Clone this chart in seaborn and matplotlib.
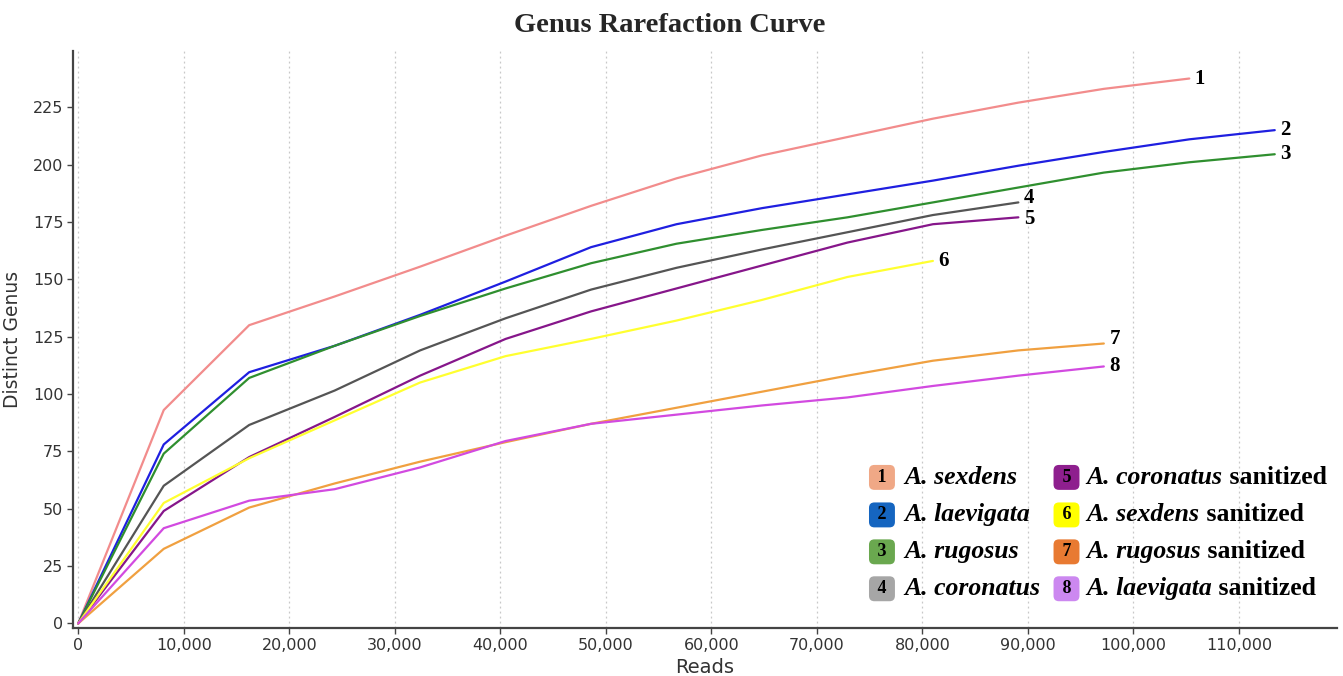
import matplotlib
matplotlib.use("Agg")
import matplotlib.pyplot as plt
import numpy as np
import pandas as pd
import seaborn as sns

# ---- data ----
reads = [0, 8100, 16200, 24300, 32400, 40500, 48600, 56700, 64800,
         72900, 81000, 89100, 97200, 105300, 113400]

s1_sexdens = [0, 93, 130, 142.5, 155.5, 169, 182, 194, 204, 212, 220, 227, 233, 237.5]
s2_laevigata = [0, 78, 109.5, 121, 134.5, 149, 164, 174, 181, 187, 193, 199.5, 205.5, 211, 215]
s3_rugosus = [0, 74, 107, 121, 134, 146, 157, 165.5, 171.5, 177, 183.5, 190, 196.5, 201, 204.5]
s4_coronatus = [0, 60, 86.5, 101.5, 119, 133, 145.5, 155, 163, 170.5, 178, 183.5]
s5_coronatus_san = [0, 49, 72.5, 90, 108, 124, 136, 146, 156, 166, 174, 177]
s6_sexdens_san = [0, 52.5, 72, 88.5, 105, 116.5, 124, 132, 141, 151, 158]
s7_rugosus_san = [0, 32.5, 50.5, 61, 70.5, 79, 87, 94, 101, 108, 114.5, 119, 122]
s8_laevigata_san = [0, 41.5, 53.5, 58.5, 68, 79.5, 87, 91, 95, 98.5, 103.5, 108, 112]

series_ids = ["1", "2", "3", "4", "5", "6", "7", "8"]
series_vals = [s1_sexdens, s2_laevigata, s3_rugosus, s4_coronatus,
               s5_coronatus_san, s6_sexdens_san, s7_rugosus_san, s8_laevigata_san]
species = ["A. sexdens", "A. laevigata", "A. rugosus", "A. coronatus",
           "A. coronatus", "A. sexdens", "A. rugosus", "A. laevigata"]
sanitized = [False, False, False, False, True, True, True, True]

line_colors = ["#f28c8c", "#1f1fe0", "#2f8f2f", "#555555",
               "#86168a", "#ffff30", "#f0a040", "#d24ae0"]
box_colors = ["#f0a886", "#1565c0", "#6aa84f", "#a6a6a6",
              "#8e1f8e", "#ffff00", "#e87a32", "#cc88f0"]

x_ticks = [0, 10000, 20000, 30000, 40000, 50000, 60000, 70000, 80000,
           90000, 100000, 110000]
y_ticks = [0, 25, 50, 75, 100, 125, 150, 175, 200, 225]

rows = []
for sid, vals in zip(series_ids, series_vals):
    for r, v in zip(reads, vals):
        rows.append({"sample": sid, "Reads": r, "Distinct Genus": v})
df = pd.DataFrame(rows)

# ---- plotting ----
sns.set_theme(style="white")
plt.rcParams["font.family"] = ["DejaVu Sans"]

fig = plt.figure(figsize=(13.43, 6.76), dpi=100)
ax = fig.add_axes([73 / 1343, 1 - 628 / 676, 1264 / 1343, 577 / 676])

palette = dict(zip(series_ids, line_colors))
sns.lineplot(data=df, x="Reads", y="Distinct Genus", hue="sample",
             palette=palette, linewidth=1.6, legend=False, ax=ax,
             sort=True, estimator=None)

ax.set_xlim(-500, 119300)
ax.set_ylim(-2, 249.5)
ax.set_xticks(x_ticks)
ax.set_xticklabels([f"{t:,}" for t in x_ticks])
ax.set_yticks(y_ticks)

ax.grid(axis="x", linestyle=(0, (1.5, 2.5)), color="#c8c8c8", linewidth=0.9)
ax.grid(axis="y", visible=False)
for side in ["top", "right"]:
    ax.spines[side].set_visible(False)
for side in ["left", "bottom"]:
    ax.spines[side].set_color("#444444")
    ax.spines[side].set_linewidth(1.6)
ax.tick_params(axis="both", which="major", direction="out", length=4,
               width=1.0, color="#444444", labelsize=11.5, labelcolor="#333333",
               bottom=True, left=True, pad=3)
ax.set_xlabel("Reads", fontsize=14, color="#333333", labelpad=4)
ax.set_ylabel("Distinct Genus", fontsize=13.5, color="#333333", labelpad=8)

# end labels
end_dy = {"4": 3, "5": -1, "7": 3, "8": 0}
for sid, vals in zip(series_ids, series_vals):
    ax.annotate(sid, xy=(reads[len(vals) - 1], vals[-1]),
                xytext=(4, end_dy.get(sid, 0)), textcoords="offset points",
                ha="left", va="center", fontsize=15, fontweight="bold",
                family="Liberation Serif", color="black")

# title
fig.text(670 / 1343, 1 - 25 / 676, "Genus Rarefaction Curve", ha="center",
         va="center", fontsize=20.5, fontweight="bold", family="Liberation Serif")

# legend drawn manually (two columns of numbered boxes)
col_box_x = [0.640, 0.786]
col_txt_x = [0.658, 0.802]
row_y = [0.261, 0.196, 0.132, 0.068]
for i, sid in enumerate(series_ids):
    c, r = divmod(i, 4)
    ax.text(col_box_x[c], row_y[r], " " + sid + " ", transform=ax.transAxes,
            ha="center", va="center", fontsize=13, fontweight="bold",
            family="Liberation Serif", color="black",
            bbox=dict(boxstyle="round,pad=0.22,rounding_size=0.3",
                      facecolor=box_colors[i], edgecolor="none"))
    t = ax.text(col_txt_x[c], row_y[r], species[i], transform=ax.transAxes,
                ha="left", va="center", fontsize=18.5, fontweight="bold",
                style="italic", family="Liberation Serif", color="black")
    if sanitized[i]:
        ax.annotate(" sanitized", xy=(1, 0.5), xycoords=t,
                    ha="left", va="center", fontsize=18.5, fontweight="bold",
                    family="Liberation Serif", color="black")

fig.savefig("out.png", dpi=100)
